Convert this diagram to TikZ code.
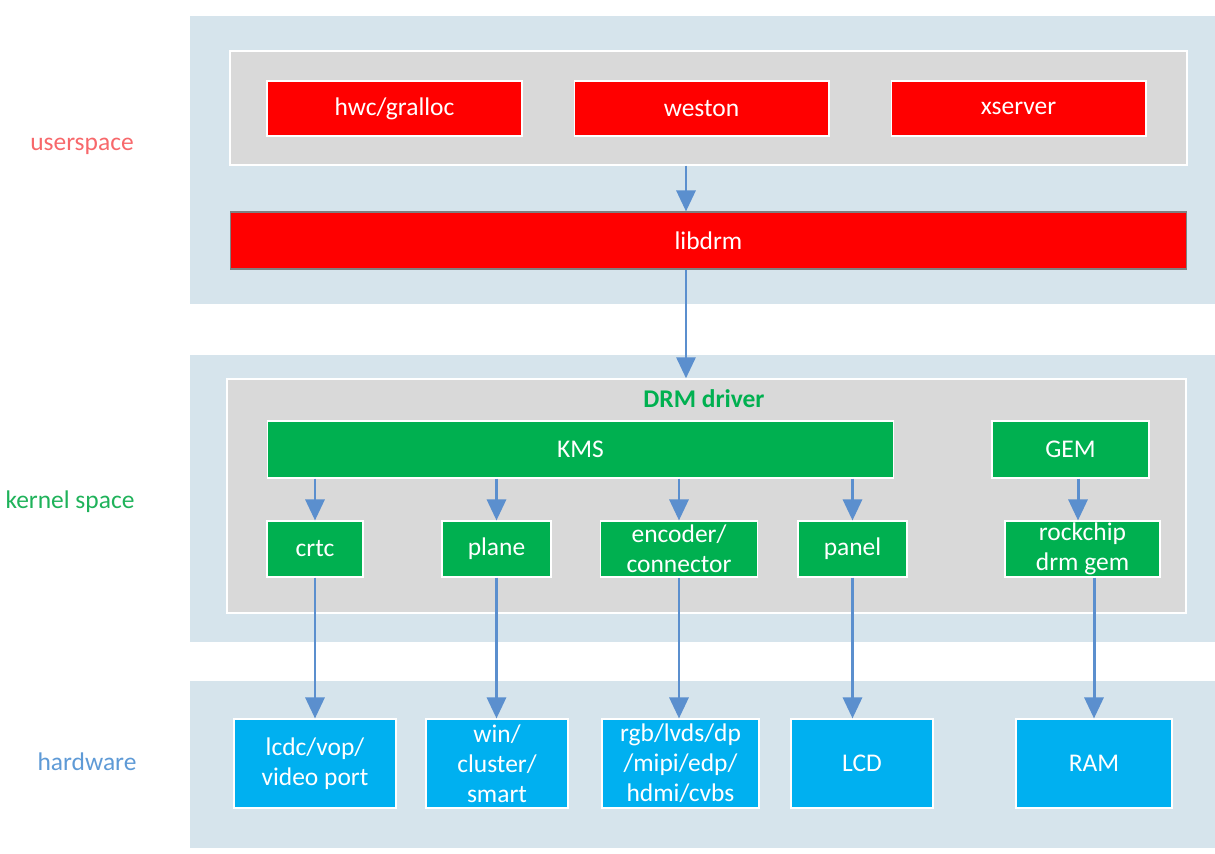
\documentclass[tikz,border=0pt]{standalone}
\usepackage{fontspec}
\setmainfont{Carlito}
\usepackage{tikz}
\usetikzlibrary{positioning,arrows.meta,calc}
\usepackage{xcolor}
\definecolor{layerband}{HTML}{D6E4EC}
\definecolor{layergray}{HTML}{D9D9D9}
\definecolor{userred}{HTML}{FF0000}
\definecolor{kernelgreen}{HTML}{00B050}
\definecolor{hwblue}{HTML}{00B0F0}
\definecolor{flowblue}{HTML}{5B8FCE}
\definecolor{lblred}{HTML}{F7686B}
\definecolor{lblgreen}{HTML}{1FB25A}
\definecolor{lblblue}{HTML}{5E9AD6}

\begin{document}
\begin{tikzpicture}[
    x=0.02cm, y=-0.02cm,
    every node/.style={font=\fontsize{14.5}{17}\selectfont, inner sep=0pt},
    band/.style={fill=layerband, minimum width=20.5cm, minimum height=#1},
    panelbox/.style={fill=layergray, draw=white, line width=0.8pt, minimum height=#1},
    blk/.style={fill=#1, draw=white, line width=0.6pt, text=white, align=center, minimum height=1.12cm},
    arrow/.style={-{Triangle[width=0.38cm,length=0.42cm]}, line width=1.7pt, color=flowblue},
    side/.style={text=#1},
]
\useasboundingbox (0,0) rectangle (1215,854);

\node[band=5.76cm] (userband) at (702.5,160) {};
\node[band=5.74cm] (kernelband) at (702.5,498.5) {};
\node[band=3.34cm] (hwband) at (702.5,764.5) {};

\node[panelbox=2.28cm, minimum width=19.14cm] (usergray) at (708.5,108) {};
\node[panelbox=4.68cm, minimum width=19.18cm] (kernelgray) at (706.5,496) {};

\node[side=lblred] (userlbl) at (82,146) {userspace};
\node[side=lblgreen] (kernellbl) at (70,502) {kernel space};
\node[side=lblblue] (hwlbl) at (87,762) {hardware};

\node[blk=userred, minimum width=5.1cm, minimum height=1.1cm] (hwc) at (394.5,108.5) {hwc/gralloc};
\node[blk=userred, minimum width=5.1cm, minimum height=1.1cm] (weston) at (701.5,108.5) {weston};
\node[blk=userred, minimum width=5.1cm, minimum height=1.1cm] (xserver) at (1018.5,108.5) {xserver};
\node[blk=userred, draw=gray, minimum width=19.14cm, minimum height=1.14cm] (libdrm) at (708.5,240.5) {libdrm};

\node[text=kernelgreen, font=\fontsize{14.5}{17}\selectfont\bfseries] (drmlbl) at (704,399) {DRM driver};
\node[blk=kernelgreen, minimum width=12.54cm, minimum height=1.14cm] (kms) at (580.5,449.5) {KMS};
\node[blk=kernelgreen, minimum width=3.14cm, minimum height=1.14cm] (gem) at (1070.5,449.5) {GEM};
\node[blk=kernelgreen, minimum width=1.92cm] (crtc) at (315,549) {crtc};
\node[blk=kernelgreen, minimum width=2.18cm] (plane) at (496.5,549) {plane};
\node[blk=kernelgreen, minimum width=3.14cm] (encoder) at (679,549) {encoder/\\connector};
\node[blk=kernelgreen, minimum width=2.18cm] (panel) at (852.5,549) {panel};
\node[blk=kernelgreen, minimum width=3.1cm] (rkgem) at (1082.5,549) {rockchip\\drm gem};

\node[blk=hwblue, minimum width=3.24cm, minimum height=1.78cm] (lcdc) at (315,763.5) {lcdc/vop/\\video port};
\node[blk=hwblue, minimum width=2.84cm, minimum height=1.78cm] (win) at (497,763.5) {win/\\cluster/\\smart};
\node[blk=hwblue, minimum width=3.14cm, minimum height=1.78cm] (rgb) at (680.5,763.5) {rgb/lvds/dp\\/mipi/edp/\\hdmi/cvbs};
\node[blk=hwblue, minimum width=2.84cm, minimum height=1.78cm] (lcd) at (862,763.5) {LCD};
\node[blk=hwblue, minimum width=3.12cm, minimum height=1.78cm] (ram) at (1094,763.5) {RAM};

\coordinate (trunk) at (686,0);
\coordinate (gemtap) at (1078,0);

\draw[arrow] (usergray.south -| trunk) -- (libdrm.north -| trunk);
\draw[arrow] (libdrm.south -| trunk) -- (kernelgray.north -| trunk);

\draw[arrow] (kms.south -| crtc) -- (crtc.north);
\draw[arrow] (kms.south -| plane) -- (plane.north);
\draw[arrow] (kms.south -| encoder) -- (encoder.north);
\draw[arrow] (kms.south -| panel) -- (panel.north);
\draw[arrow] (gem.south -| gemtap) -- (rkgem.north -| gemtap);

\draw[arrow] (crtc.south) -- (lcdc.north -| crtc);
\draw[arrow] (plane.south) -- (win.north -| plane);
\draw[arrow] (encoder.south) -- (rgb.north -| encoder);
\draw[arrow] (panel.south) -- (lcd.north -| panel);
\draw[arrow] (rkgem.south -| ram) -- (ram.north);

\end{tikzpicture}
\end{document}
